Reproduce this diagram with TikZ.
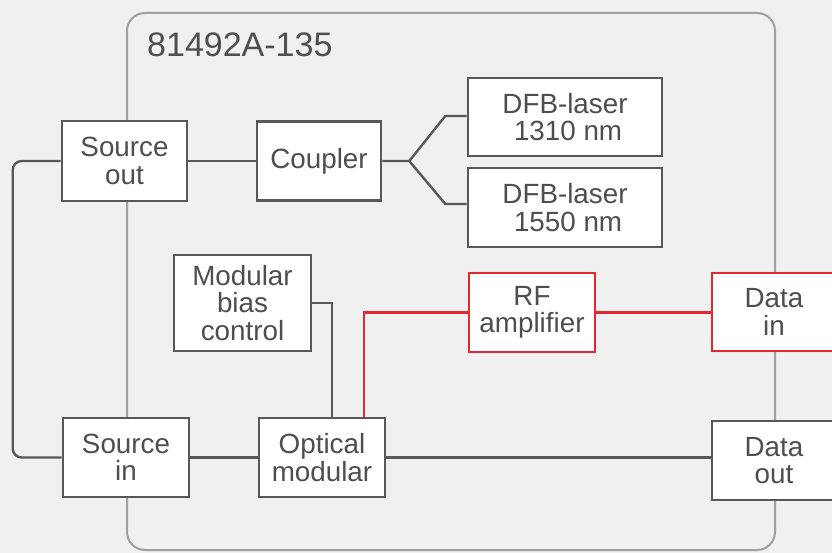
\documentclass[tikz,border=0pt]{standalone}
\usepackage{fontspec}
\setmainfont{Liberation Sans}
\usetikzlibrary{calc}
\definecolor{bg}{RGB}{240,240,240}
\definecolor{boxgray}{RGB}{88,88,88}
\definecolor{framegray}{RGB}{160,160,160}
\definecolor{txtgray}{RGB}{78,78,78}
\definecolor{kred}{RGB}{226,40,52}
\tikzset{
  blk/.style={draw=boxgray, line width=2.6pt, fill=white, text=txtgray, align=center,
    inner sep=0pt, font=\fontsize{27.8}{27.5}\selectfont},
  redblk/.style={blk, draw=kred},
  conn/.style={draw=boxgray, line width=2.4pt},
  redconn/.style={draw=kred, line width=2.4pt},
}
\begin{document}
\begin{tikzpicture}[x=1pt,y=-1pt]
\clip (0,0) rectangle (832,553);
\fill[bg] (0,0) rectangle (832,553);
% frame
\draw[framegray, line width=2pt, rounded corners=18pt] (127,13) rectangle (775,550);
\node[anchor=base west, text=txtgray, font=\fontsize{34}{36}\selectfont, inner sep=0pt] (title) at (147,57) {81492A-135};
% blocks
\node[blk, minimum width=125pt, minimum height=80pt] (srcout) at (124.5,161) {Source\\out};
\node[blk, minimum width=126pt, minimum height=79pt] (srcin) at (126,457.5) {Source\\in};
\node[blk, minimum width=124pt, minimum height=79pt] (coupler) at (319,161) {Coupler};
\node[blk, minimum width=194pt, minimum height=78pt] (dfba) at (565,117) {DFB-laser\\\phantom{i}1310 nm};
\node[blk, minimum width=194pt, minimum height=79pt] (dfbb) at (565,207.5) {DFB-laser\\\phantom{i}1550 nm};
\node[blk, minimum width=137pt, minimum height=96pt] (bias) at (242.5,303) {Modular\\bias\\control};
\node[blk, minimum width=126pt, minimum height=79pt] (optical) at (322,457.5) {Optical\\modular};
\node[redblk, minimum width=126pt, minimum height=79pt] (rf) at (532,312.5) {RF\\amplifier};
\node[redblk, minimum width=124pt, minimum height=78pt] (datain) at (774,312) {Data\\in};
\node[blk, minimum width=124pt, minimum height=79pt] (dataout) at (774,460.5) {Data\\out};
% connectors
\draw[conn] (srcout.east) -- (coupler.west);
\coordinate (fork) at ([xshift=27pt]coupler.east);
\draw[conn] (coupler.east) -- (fork) -- ++(36,-45) coordinate (up) -- (up -| dfba.west);
\draw[conn] (fork) -- ++(36,43) coordinate (lo) -- (lo -| dfbb.west);
\draw[conn, rounded corners=9pt] (srcout.west) -- ++(-48,0) |- (srcin.west);
\draw[conn] (srcin.east) -- (optical.west);
\draw[conn] (optical.east) -- (optical.east -| dataout.west);
\draw[conn] (bias.east) -| ([xshift=10pt]optical.north);
\draw[redconn] ([xshift=42pt]optical.north) |- (rf.west);
\draw[redconn] (rf.east) -- (rf.east -| datain.west);
\end{tikzpicture}
\end{document}
